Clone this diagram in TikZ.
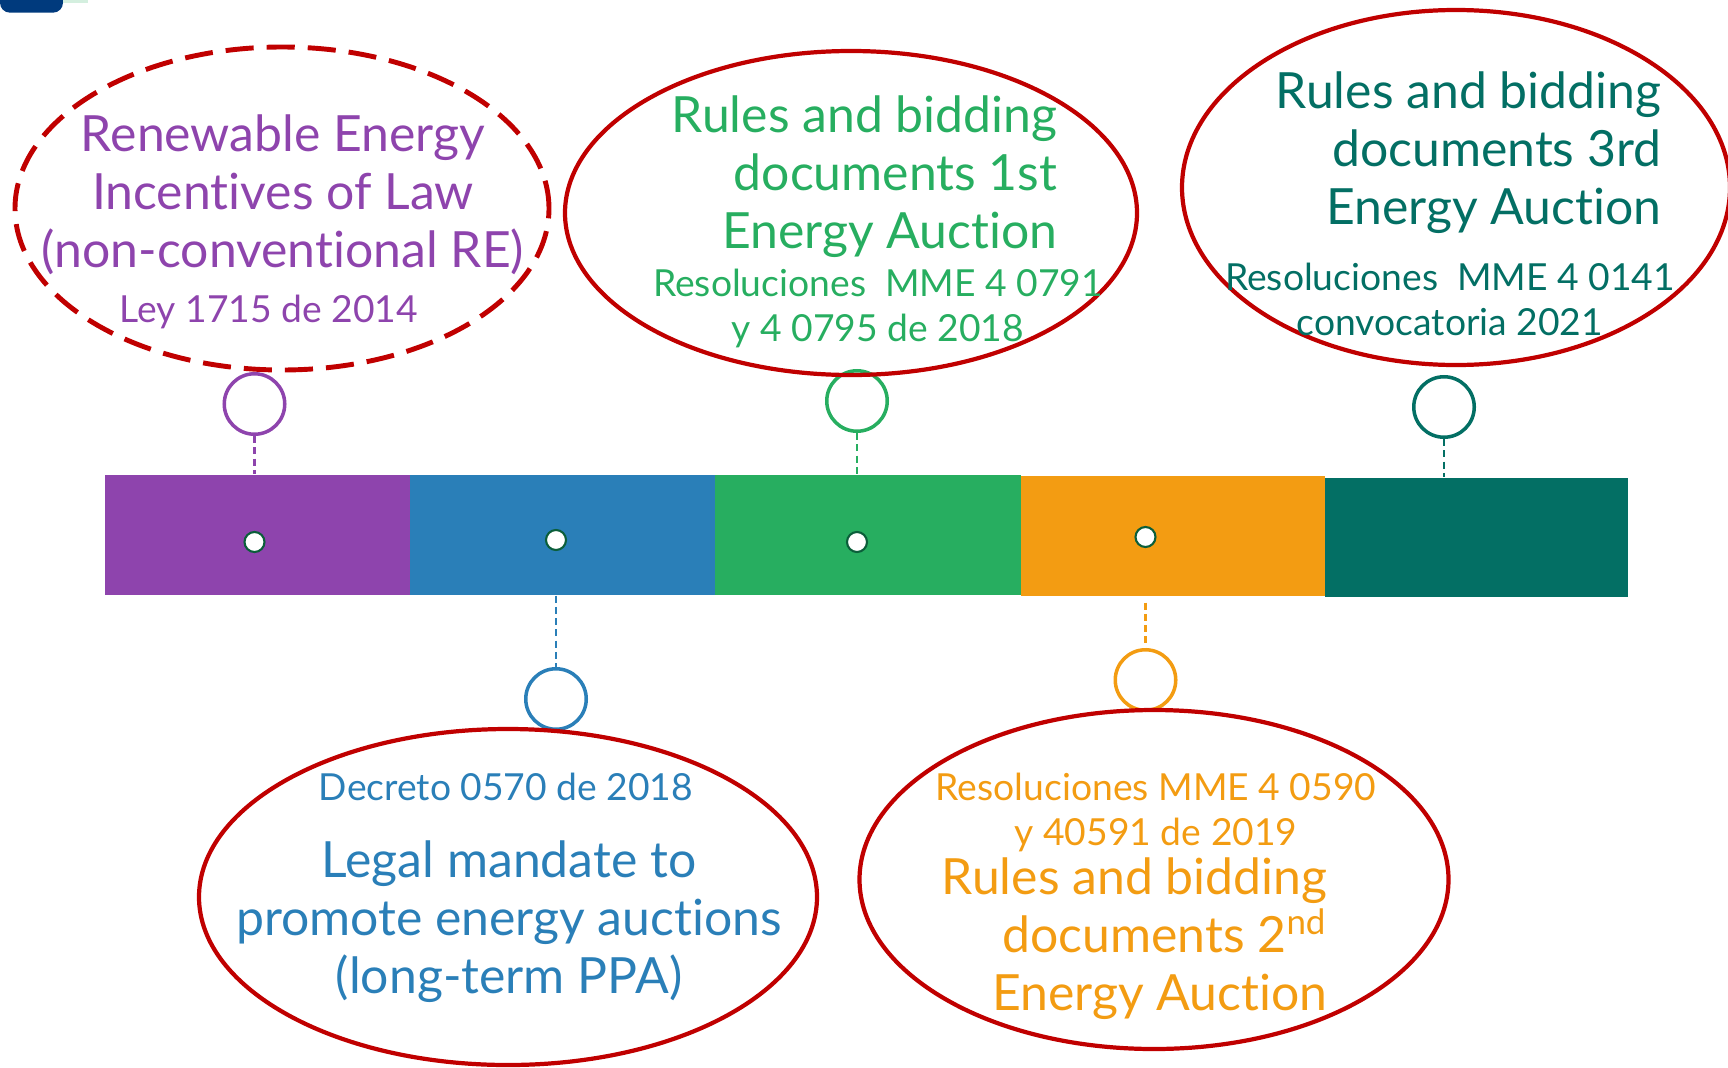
\documentclass[tikz,border=0pt]{standalone}
\usepackage{fontspec}
\setmainfont{Lato}[Ligatures=NoCommon]
\usepackage{xcolor}
\usepackage{tikz}
\usetikzlibrary{shapes.geometric}
\definecolor{C0}{HTML}{8E44AD}
\definecolor{C1}{HTML}{2A7FB8}
\definecolor{C2}{HTML}{27AE60}
\definecolor{C3}{HTML}{F39C12}
\definecolor{C4}{HTML}{036F64}
\definecolor{Cr}{HTML}{C00000}
\definecolor{Cd}{HTML}{0B5E3A}
\definecolor{Cnavy}{HTML}{003A7D}
\begin{document}
\begin{tikzpicture}[x=0.1mm,y=-0.1mm]
\tikzstyle{seg}=[draw=none, shape=rectangle, inner sep=0pt, minimum height=12mm]
\tikzstyle{ring}=[draw, shape=circle, line width=1pt, inner sep=0pt, minimum size=6.05mm]
\tikzstyle{dot}=[draw=Cd, fill=white, shape=circle, line width=0.6pt, inner sep=0pt, minimum size=2mm]
\tikzstyle{bubble}=[draw=Cr, shape=ellipse, line width=1.2pt, inner sep=0pt]
\tikzstyle{big}=[font=\fontsize{14.2}{16.4}\selectfont, inner sep=0pt]
\tikzstyle{small}=[font=\fontsize{10.6}{12.8}\selectfont, inner sep=0pt, align=center]
\tikzstyle{link}=[line width=0.6pt, dash pattern=on 2pt off 1.2pt]
\useasboundingbox (0,0) rectangle (1728,1067);
%
\fill[Cnavy, rounded corners=1mm] (0,-20) rectangle (63,12.7);
\fill[C2!20] (63,0) rectangle (88,3);
%
\node[seg, fill=C0, minimum width=30.5mm](s1) at (257.5,535){};
\node[seg, fill=C1, minimum width=30.5mm](s2) at (562.5,535){};
\node[seg, fill=C2, minimum width=30.6mm](s3) at (868,535){};
\node[seg, fill=C3, minimum width=30.4mm](s4) at (1173,536){};
\node[seg, fill=C4, minimum width=30.3mm, minimum height=11.9mm](s5) at (1476.5,537.5){};
%
\node[dot](d1) at (254.5,542){};
\node[dot](d2) at (556,540){};
\node[dot](d3) at (857,542){};
\node[dot](d4) at (1145.5,537){};
%
\node[ring, draw=C0](r1) at (254.5,404){};
\node[ring, draw=C1](r2) at (556,699){};
\node[ring, draw=C2](r3) at (857,401){};
\node[ring, draw=C3](r4) at (1145.5,680){};
\node[ring, draw=C4](r5) at (1444,407){};
%
\draw[link, C0] (r1.south) -- (r1.south |- s1.north);
\draw[link, C1] (s2.south -| r2.north) -- (r2.north);
\draw[link, C2] (r3.south) -- (r3.south |- s3.north);
\draw[link, C3] (s4.south -| r4.north) ++(0,6) -- (r4.north);
\draw[link, C4] (r5.south) -- (r5.south |- s5.north);
%
\node[bubble, dashed, dash pattern=on 8pt off 3.7pt, line width=1.4pt, minimum width=53.4mm, minimum height=32.3mm](law) at (282,208.5){};
\node[bubble, minimum width=57.2mm, minimum height=32.4mm](auc1) at (851,213){};
\node[bubble, minimum width=54.8mm, minimum height=35.5mm](auc3) at (1456,187.5){};
\node[bubble, minimum width=61.8mm, minimum height=33.6mm](decree) at (508,897){};
\node[bubble, minimum width=58.9mm, minimum height=33.9mm](auc2) at (1154,879.5){};
%
\node[big, align=center, anchor=base, C0](lawtxt) at (283,267){Renewable Energy\\Incentives of Law\\(non-conventional RE)};
\node[small, anchor=base, C0](lawref) at (269,322){Ley 1715 de 2014};
%
\node[big, align=right, anchor=base east, C2](auc1txt) at (1058,248){Rules and bidding\\documents 1st\\Energy Auction};
\node[small, anchor=base, C2](auc1ref) at (878,341.7){Resoluciones\ \ MME 4 0791\\y 4 0795 de 2018};
%
\node[big, align=right, anchor=base east, C4](auc3txt) at (1662,224){Rules and bidding\\documents 3rd\\Energy Auction};
\node[small, anchor=base, C4](auc3ref) at (1450,335){Resoluciones\ \ MME 4 0141\\convocatoria 2021};
%
\node[small, anchor=base, C1](decreeref) at (506,800){Decreto 0570 de 2018};
\node[big, align=center, anchor=base, C1](decreetxt) at (509,993){Legal mandate to\\promote energy auctions\\(long-term PPA)};
%
\node[small, anchor=base, C3](auc2ref) at (1156,845){Resoluciones MME 4 0590\\y 40591 de 2019};
\node[big, align=right, anchor=base east, C3](auc2txt) at (1328,1010){Rules and bidding\\documents 2\textsuperscript{nd}\\Energy Auction};
%
\end{tikzpicture}
\end{document}
